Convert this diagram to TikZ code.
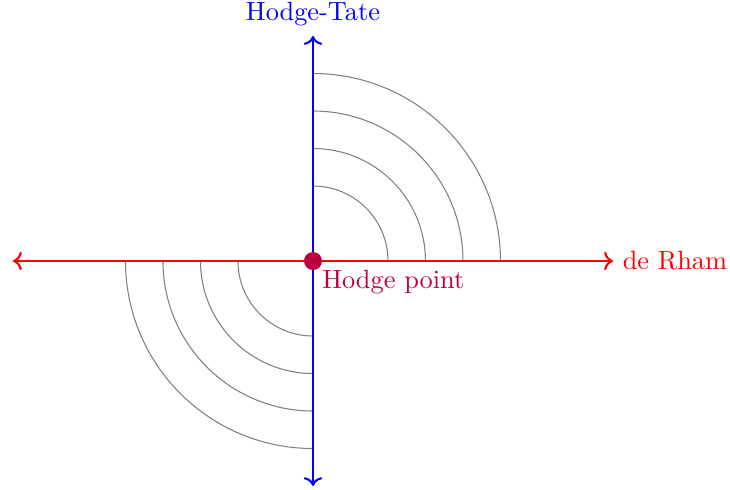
\documentclass[tikz,border=0pt]{standalone}
\usepackage{xcolor}
\usepackage{tikz}
\usetikzlibrary{arrows.meta,positioning}

\begin{document}
\begin{tikzpicture}[
    axis/.style={thick,<->},
    ring/.style={gray,line width=0.4pt}
  ]
  \useasboundingbox (-4.173,-3.053) rectangle (5.56,3.48);
  \coordinate (O) at (0,0);
  \coordinate (W) at (-4,0);
  \coordinate (E) at (4,0);
  \coordinate (S) at (0,-3);
  \coordinate (N) at (0,3);
  % quarter rings
  \foreach \r in {1,1.5,2,2.5} {
    \draw[ring] (\r,0) arc[start angle=0,end angle=90,radius=\r];
    \draw[ring] (-\r,0) arc[start angle=180,end angle=270,radius=\r];
  }
  \draw[axis,red] (W) -- (E) node[right] (dr) {de Rham};
  \draw[axis,blue] (S) -- (N) node[above] (ht) {Hodge-Tate};
  \fill[purple] (O) circle (0.12);
  \node[purple,below right] (hp) at (O) {Hodge point};
\end{tikzpicture}
\end{document}
